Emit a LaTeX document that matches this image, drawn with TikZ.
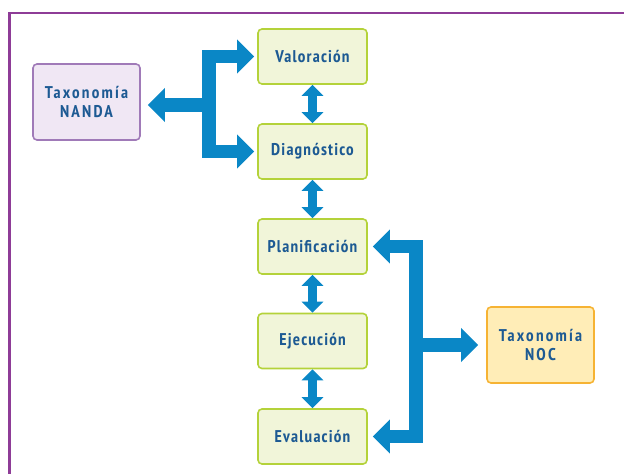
\documentclass[tikz,border=0pt]{standalone}
\usepackage{fontspec}
\usetikzlibrary{arrows.meta,calc}
\newfontfamily\lblfont[LetterSpace=7]{PT Sans Narrow Bold}
\newfontfamily\taxfont[LetterSpace=13]{PT Sans Narrow Bold}
\definecolor{framepurple}{HTML}{8E3C97}
\definecolor{arrowblue}{HTML}{0A87C6}
\definecolor{txtblue}{HTML}{1D5A93}
\definecolor{greenfill}{HTML}{F1F5D9}
\definecolor{greenline}{HTML}{B4D23A}
\definecolor{purplefill}{HTML}{F0E7F4}
\definecolor{purpleline}{HTML}{A07AB8}
\definecolor{orangefill}{HTML}{FFEDB7}
\definecolor{orangeline}{HTML}{F6B333}
\tikzset{
  stage/.style={draw=greenline, fill=greenfill, line width=1.6pt, rounded corners=4pt,
    minimum width=109pt, minimum height=55pt, inner sep=0pt, text=txtblue,
    font=\lblfont\fontsize{17}{20}\selectfont},
  taxo/.style={line width=1.6pt, rounded corners=4pt, minimum width=107pt, minimum height=76pt,
    inner sep=0pt, text=txtblue, align=center, font=\taxfont\fontsize{17}{19}\selectfont},
  fat/.style={draw=arrowblue, line width=13.5pt, line join=miter},
  thin/.style={draw=arrowblue, line width=9.5pt},
  bigtip/.tip={Triangle[width=33pt,length=17pt]},
  smalltip/.tip={Triangle[width=21pt,length=11pt]},
}
\begin{document}
\begin{tikzpicture}[x=1pt,y=-1pt]
\useasboundingbox (0,0) rectangle (624,474);
% frame
\draw[framepurple, line width=2.6pt] (9.5,475) -- (9.5,13) -- (625,13);
% nodes
\node[stage] (val)  at (312.5,56.5)  {Valoración};
\node[stage] (diag) at (312.5,151.5) {Diagnóstico};
\node[stage] (plan) at (312.5,246.5) {Planificación};
\node[stage] (ejec) at (312.5,341)   {Ejecución};
\node[stage] (eval) at (312.5,436.5) {Evaluación};
\node[taxo, draw=purpleline, fill=purplefill] (nanda) at (86.5,102) {Taxonomía\\NANDA};
\node[taxo, draw=orangeline, fill=orangefill] (noc) at (540.5,345) {Taxonomía\\NOC};
\coordinate (jl) at (209,105);
\coordinate (jr) at (416,345);
% vertical double arrows
\draw[thin,{smalltip}-{smalltip}] (val.south) -- (diag.north);
\draw[thin,{smalltip}-{smalltip}] (diag.south) -- (plan.north);
\draw[thin,{smalltip}-{smalltip}] (plan.south) -- (ejec.north);
\draw[thin,{smalltip}-{smalltip}] (ejec.south) -- (eval.north);
% left fork
\draw[fat,{bigtip}-{bigtip}, shorten <=3pt, shorten >=3pt] (val.west) -| (jl) |- (diag.west);
\draw[fat,-{bigtip}, shorten >=7pt] (jl) -- (jl -| nanda.east);
% right fork
\draw[fat,{bigtip}-{bigtip}, shorten <=5pt, shorten >=5pt] (plan.east) -| (jr) |- (eval.east);
\draw[fat,-{bigtip}, shorten >=8pt] (jr) -- (noc.west);
\end{tikzpicture}
\end{document}
